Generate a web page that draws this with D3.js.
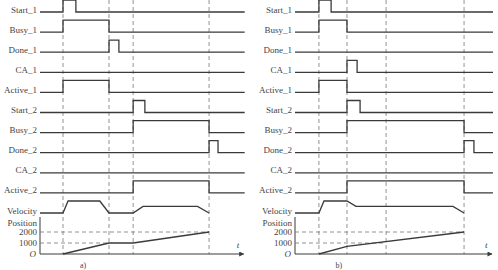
<!DOCTYPE html>
<html>
<head>
<meta charset="utf-8">
<script src="https://cdn.jsdelivr.net/npm/d3@7"></script>
<style>
  body { margin: 0; background: #fff; }
  text { font-family: "Liberation Serif", "DejaVu Serif", serif; fill: #444; }
</style>
</head>
<body>
<svg width="498" height="270"></svg>
<script>
// signal rows, top to bottom
const rows = ["Start_1", "Busy_1", "Done_1", "CA_1", "Active_1",
              "Start_2", "Busy_2", "Done_2", "CA_2", "Active_2", "Velocity"];

// panel a) -- time of the dashed event lines, end of time axis
const eventsA = [10, 30, 40.5, 73.5];
const endA = 89;
// high interval of each digital signal (empty = always low)
const highA = [[10, 15.6], [10, 30], [30, 34.3], [], [10, 30],
               [40.5, 45.6], [40.5, 73.5], [73.5, 77.4], [], [40.5, 73.5]];
const velocityA = [[0, 0], [10, 0], [12.2, 1], [26, 1], [30, 0], [40.5, 0],
                   [44.8, 0.55], [68.5, 0.55], [73.5, 0]];
const positionA = [[10, 0], [30, 1000], [40.5, 1000], [73.5, 2000]];

// panel b)
const eventsB = [10.4, 22.6, 39.6, 73.5];
const endB = 86.1;
const highB = [[10.4, 15.7], [10.4, 22.6], [], [22.6, 27], [10.4, 22.6],
               [22.6, 28.3], [22.6, 73.5], [73.5, 77.8], [], [22.6, 73.5]];
const velocityB = [[0, 0], [10.4, 0], [12.6, 1], [22.6, 1], [26.5, 0.55],
                   [68.7, 0.55], [73.5, 0]];
const positionB = [[10.4, 0], [22.6, 700], [73.5, 2000]];

const posTicks = [2000, 1000];
const captions = ["a)", "b)"];

const svg = d3.select("svg");
const lineColor = "#3a3a3a";
const dashColor = "#777";
const amp = 12;   // height of a high level

svg.append("defs").append("marker")
    .attr("id", "arrow")
    .attr("viewBox", "0 0 10 10")
    .attr("refX", 9).attr("refY", 5)
    .attr("markerWidth", 7).attr("markerHeight", 5)
    .attr("orient", "auto")
    .attr("markerUnits", "userSpaceOnUse")
  .append("path")
    .attr("d", "M0,0L10,5L0,10Z")
    .attr("fill", lineColor);

const y = d3.scalePoint().domain(rows).range([12, 213]);
const yPos = d3.scaleLinear().domain([0, 2000]).range([254, 232]);

const panels = [
    {x0: 40, end: endA, events: eventsA, high: highA, vel: velocityA, pos: positionA, dash1000: eventsA[1], cap: captions[0]},
    {x0: 295, end: endB, events: eventsB, high: highB, vel: velocityB, pos: positionB, dash1000: eventsB[2], cap: captions[1]}
];

panels.forEach(function(p) {
    const x = d3.scaleLinear().domain([0, p.end]).range([p.x0, p.x0 + p.end * 2.3]);
    const g = svg.append("g");

    // dashed event lines
    g.selectAll("line.ev")
        .data(p.events)
        .enter().append("line")
        .attr("x1", d => x(d)).attr("x2", d => x(d))
        .attr("y1", 0).attr("y2", yPos(0))
        .attr("stroke", dashColor)
        .attr("stroke-width", 0.8)
        .attr("stroke-dasharray", "4,3");

    // row labels
    g.selectAll("text.row")
        .data(rows)
        .enter().append("text")
        .attr("x", p.x0 - 3)
        .attr("y", d => y(d) + 0.5)
        .attr("text-anchor", "end")
        .attr("font-size", 9)
        .text(d => d);

    // digital signals
    const sig = d3.line()
        .x(d => x(d[0]))
        .y(d => d[1])
        .curve(d3.curveStepAfter);
    p.high.forEach(function(h, i) {
        const base = y(rows[i]);
        let pts = [[0, base]];
        if (h.length) pts = pts.concat([[h[0], base - amp], [h[1], base]]);
        pts.push([p.end, base]);
        g.append("path")
            .attr("d", sig(pts))
            .attr("fill", "none")
            .attr("stroke", lineColor)
            .attr("stroke-width", 1.3);
    });

    // velocity profile
    const vBase = y("Velocity");
    g.append("path")
        .attr("d", d3.line().x(d => x(d[0])).y(d => vBase - d[1] * amp)(p.vel))
        .attr("fill", "none")
        .attr("stroke", lineColor)
        .attr("stroke-width", 1.3);

    // position axes
    g.append("text")
        .attr("x", p.x0 - 3).attr("y", 226)
        .attr("text-anchor", "end").attr("font-size", 9)
        .text("Position");
    g.selectAll("text.tick")
        .data(posTicks)
        .enter().append("text")
        .attr("x", p.x0 - 3)
        .attr("y", d => yPos(d) + 3)
        .attr("text-anchor", "end").attr("font-size", 9)
        .text(d => d);
    g.append("text")
        .attr("x", p.x0 - 4).attr("y", yPos(0) + 3)
        .attr("text-anchor", "end").attr("font-size", 9)
        .attr("font-style", "italic")
        .text("O");
    g.append("line")
        .attr("x1", x(0)).attr("x2", x(0))
        .attr("y1", 217).attr("y2", yPos(0))
        .attr("stroke", lineColor).attr("stroke-width", 1);
    g.append("line")
        .attr("x1", x(0)).attr("x2", x(p.end) - 1)
        .attr("y1", yPos(0)).attr("y2", yPos(0))
        .attr("stroke", lineColor).attr("stroke-width", 1)
        .attr("marker-end", "url(#arrow)");
    g.append("text")
        .attr("x", x(p.end) - 8).attr("y", yPos(0) - 6)
        .attr("font-size", 9).attr("font-style", "italic")
        .text("t");

    // reference dashes at 2000 and 1000
    g.append("line")
        .attr("x1", x(0)).attr("x2", x(p.events[3]))
        .attr("y1", yPos(2000)).attr("y2", yPos(2000))
        .attr("stroke", dashColor).attr("stroke-width", 0.8)
        .attr("stroke-dasharray", "4,3");
    g.append("line")
        .attr("x1", x(0)).attr("x2", x(p.dash1000))
        .attr("y1", yPos(1000)).attr("y2", yPos(1000))
        .attr("stroke", dashColor).attr("stroke-width", 0.8)
        .attr("stroke-dasharray", "4,3");

    // position curve
    g.append("path")
        .attr("d", d3.line().x(d => x(d[0])).y(d => yPos(d[1]))(p.pos))
        .attr("fill", "none")
        .attr("stroke", lineColor)
        .attr("stroke-width", 1.3);

    g.append("text")
        .attr("x", x(p.events[0]) + 20).attr("y", 268)
        .attr("text-anchor", "middle").attr("font-size", 8)
        .text(p.cap);
});
</script>
</body>
</html>
